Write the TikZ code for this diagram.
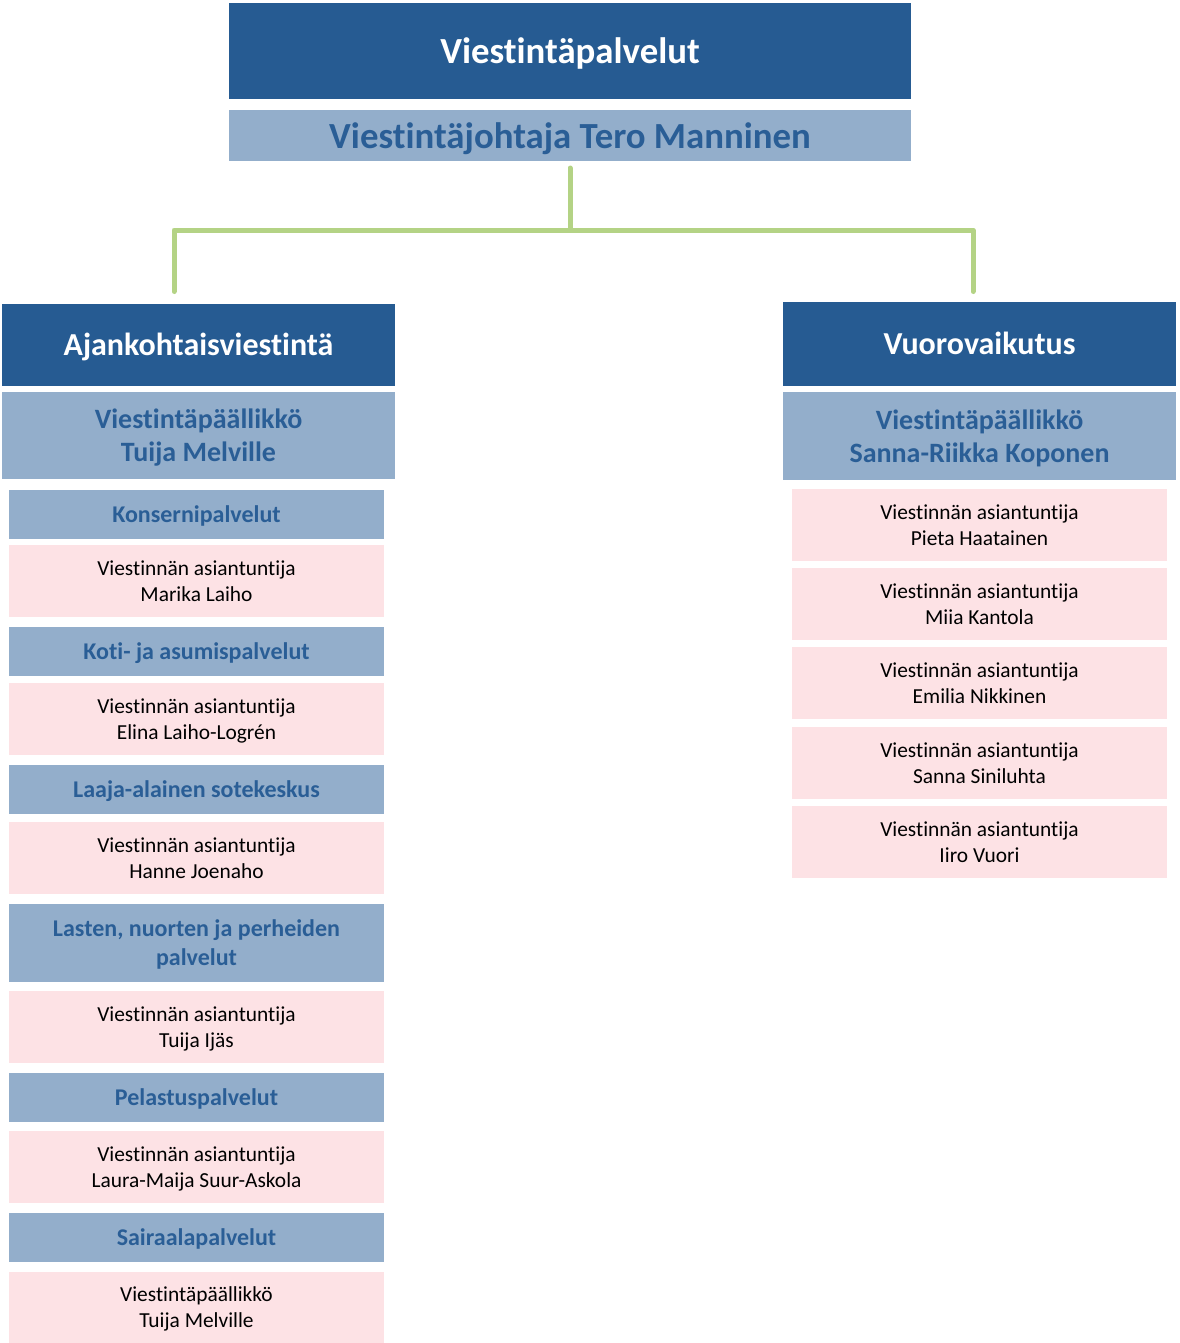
\documentclass[tikz,border=0pt]{standalone}
\usepackage{fontspec}
\setmainfont{Carlito}[Ligatures=NoCommon]

\definecolor{darkblue}{RGB}{38,91,146}
\definecolor{paleblue}{RGB}{147,174,203}
\definecolor{textblue}{RGB}{42,94,150}
\definecolor{palepink}{RGB}{253,226,229}
\definecolor{linkgreen}{RGB}{180,211,133}

\tikzset{
	box/.style={inner sep=0pt, outer sep=0pt, align=center},
	main/.style={box, fill=darkblue, text=white, font=\bfseries\fontsize{16}{19}\selectfont, text height=15.2pt, text depth=4.3pt, minimum width=196.5pt, minimum height=41pt},
	title/.style={main, font=\bfseries\fontsize{18.4}{22}\selectfont, text height=17.5pt, text depth=4.95pt, minimum width=341pt},
	chief/.style={box, fill=paleblue, text=textblue, font=\bfseries\fontsize{14}{16.5}\selectfont, text height=29.8pt, text depth=3.8pt, minimum width=196.5pt, minimum height=44pt},
	unit/.style={box, fill=paleblue, text=textblue, font=\bfseries\fontsize{12}{14.5}\selectfont, text height=11.4pt, text depth=3.2pt, minimum width=187.5pt, minimum height=24.5pt},
	person/.style={box, fill=palepink, text=black, font=\fontsize{10.7}{13}\selectfont, text height=23.2pt, text depth=2.9pt, minimum width=187.5pt, minimum height=36pt},
	link/.style={draw=linkgreen, line width=2.5pt, line cap=round, line join=round}
}

\begin{document}
\begin{tikzpicture}[x=0.5pt,y=-0.5pt]
		\useasboundingbox (0,0) rectangle (1179,1343);
		
		\node[title, minimum height=48pt] (top) at (570,51) {Viestintäpalvelut};
		\node[title, fill=paleblue, text=textblue, minimum height=25.5pt] (boss) at (570,135.5) {Viestintäjohtaja Tero Manninen};
		
		% vasen haara
		\node[main] (ajank) at (198.5,345) {Ajankohtaisviestintä};
		\node[chief, minimum height=43.5pt] (melville) at (198.5,435.5) {Viestintäpäällikkö\\Tuija Melville};
		\node[unit] (konserni) at (196.5,514.5) {Konsernipalvelut};
		\node[person] (laiho) at (196.5,581) {Viestinnän asiantuntija\\Marika Laiho};
		\node[unit] (koti) at (196.5,651.5) {Koti- ja asumispalvelut};
		\node[person] (logren) at (196.5,719) {Viestinnän asiantuntija\\Elina Laiho-Logrén};
		\node[unit] (laaja) at (196.5,789.5) {Laaja-alainen sotekeskus};
		\node[person] (joenaho) at (196.5,858) {Viestinnän asiantuntija\\Hanne Joenaho};
		\node[unit, text height=25.9pt, minimum height=39pt] (lasten) at (196.5,943) {Lasten, nuorten ja perheiden\\palvelut};
		\node[person] (ijas) at (196.5,1027) {Viestinnän asiantuntija\\Tuija Ijäs};
		\node[unit] (pelastus) at (196.5,1097.5) {Pelastuspalvelut};
		\node[person] (askola) at (196.5,1167) {Viestinnän asiantuntija\\Laura-Maija Suur-Askola};
		\node[unit] (sairaala) at (196.5,1237.5) {Sairaalapalvelut};
		\node[person] (melville2) at (196.5,1307.5) {Viestintäpäällikkö\\Tuija Melville};
		
		% oikea haara
		\node[main, minimum height=42pt] (vuoro) at (979.5,344) {Vuorovaikutus};
		\node[chief] (koponen) at (979.5,436) {Viestintäpäällikkö\\Sanna-Riikka Koponen};
		\foreach \name/\who/\y in {haatainen/Pieta Haatainen/525, kantola/Miia Kantola/604, nikkinen/Emilia Nikkinen/683, siniluhta/Sanna Siniluhta/763, vuori/Iiro Vuori/842} {
			\node[person] (\name) at (979.5,\y) {Viestinnän asiantuntija\\\who};
		}
		
		% yhdysviivat
		\coordinate (fork) at (570,230);
		\draw[link, shorten <=3.5pt] (boss) -- (fork);
		\draw[link, shorten <=6.25pt, shorten >=5.25pt] ([xshift=-12.25pt]ajank.north) |- (fork) -| ([xshift=-3.25pt]vuoro.north);
\end{tikzpicture}
\end{document}
